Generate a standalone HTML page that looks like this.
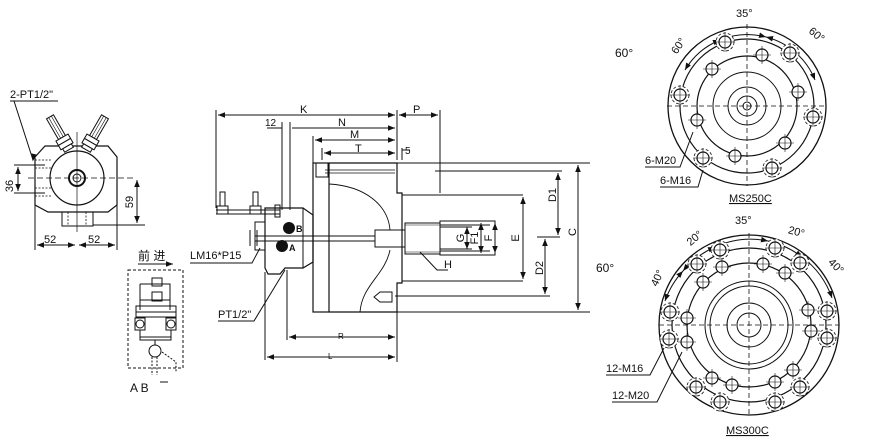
<!DOCTYPE html>
<html><head><meta charset="utf-8"><style>
html,body{margin:0;padding:0;background:#fff;}
svg{display:block;}
text{font-family:"Liberation Sans","Noto Sans CJK SC",sans-serif;fill:#111;}
</style></head><body>
<svg width="870" height="448" viewBox="0 0 870 448" xmlns="http://www.w3.org/2000/svg">
<defs>
<marker id="ar" viewBox="0 0 10 10" refX="10" refY="5" markerWidth="7" markerHeight="7" orient="auto-start-reverse"><path d="M0,1 L10,5 L0,9 z" fill="#111"/></marker>
<g id="h20"><circle r="6" fill="#fff" stroke="#111" stroke-width="1.2"/><path d="M-9,0H9M0,-9V9" stroke="#111" stroke-width="0.6"/></g>
<g id="h16"><circle r="9" fill="#fff" stroke="#111" stroke-width="0.8" stroke-dasharray="3 2"/><circle r="6" fill="none" stroke="#111" stroke-width="1.2"/><path d="M-10,0H10M0,-10V10" stroke="#111" stroke-width="0.6"/></g>
<g id="tube"><rect x="-4" y="-36" width="8" height="24"/><path d="M-1.5,-36V-12M1.5,-36V-12" stroke-width="0.6"/><rect x="-7" y="-12" width="14" height="5"/><rect x="-7" y="-7" width="14" height="5"/><rect x="-5" y="-2" width="10" height="4"/></g>
</defs>
<g fill="none" stroke="#111" stroke-width="1">

<!-- LEFT END VIEW -->
<path d="M35,157 L45,146 L108,146 L117,157 L117,205 L108,212 L48,212 L35,205 Z" stroke-width="1.2"/>
<rect x="62" y="212" width="31" height="14"/>
<circle cx="77" cy="178" r="27" stroke-width="1.2"/>
<circle cx="77" cy="178" r="8" stroke-width="2"/><circle cx="77" cy="178" r="4"/>
<g transform="translate(68,148) rotate(-30)" fill="#fff"><use href="#tube"/></g>
<g transform="translate(87,148) rotate(30)" fill="#fff"><use href="#tube"/></g>
<path d="M77,132 V232" stroke-width="0.7"/>
<path d="M28,178 H135" stroke-dasharray="6 3" stroke-width="0.8"/>
<path d="M35,160 H52 M35,168 H52 M35,188 H52 M35,196 H52" stroke-dasharray="2 1.5" stroke-width="0.8"/>
<path d="M68,212 V226 M86,212 V226" stroke-dasharray="2 1.5" stroke-width="0.8"/>
<path d="M35,205 V250 M117,205 V250 M93,225 H145 M14,165 H45 M14,193 H45"/>
<path d="M37,245 H75" marker-start="url(#ar)" marker-end="url(#ar)"/>
<path d="M79,245 H115" marker-start="url(#ar)" marker-end="url(#ar)"/>
<path d="M18,167 V191" marker-start="url(#ar)" marker-end="url(#ar)"/>
<path d="M137,180 V223" marker-start="url(#ar)" marker-end="url(#ar)"/>
<path d="M10,101 H58 M14,101 L33,160" /><path d="M33,160 l-1,-6 l4,1z" fill="#111"/>

<!-- hydraulic schematic -->
<rect x="128" y="270" width="55" height="98" stroke-dasharray="3 2"/>
<path d="M138,264 H173" marker-end="url(#ar)"/>
<path d="M140,284 H170 V310 M140,284 V310 M140,300 H170"/>
<rect x="152" y="278" width="10" height="8"/><rect x="152" y="292" width="10" height="9"/>
<rect x="136" y="306" width="40" height="6"/><rect x="136" y="312" width="40" height="5"/>
<rect x="135" y="318" width="10" height="12"/><circle cx="140" cy="324" r="4"/>
<rect x="166" y="318" width="10" height="12"/><circle cx="171" cy="324" r="4"/>
<path d="M140,330 V340 H171 V330 M140,337 H171" />
<path d="M144,337 H168" stroke-dasharray="2 2"/>
<path d="M155,340 V345"/><circle cx="155" cy="351" r="6"/>
<path d="M152,357 V375 M157,357 V375 M162,352 L176,362 V372" stroke-dasharray="2 1.5"/>
<path d="M160,382 H168"/>

<!-- MAIN SIDE VIEW -->
<path d="M216,110 V208 M397,110 V160 M440,110 V193 M282,122 V210 M290,122 V210"/>
<path d="M218,115 H395" marker-start="url(#ar)" marker-end="url(#ar)"/>
<path d="M399,115 H438" marker-start="url(#ar)" marker-end="url(#ar)"/>
<path d="M267,128 H282 M292,128 H395" marker-end="url(#ar)"/>
<path d="M313,136 V163"/>
<path d="M315,140 H395" marker-start="url(#ar)" marker-end="url(#ar)"/>
<path d="M324,153 H395" marker-start="url(#ar)" marker-end="url(#ar)"/>
<path d="M322,148 V160 M402,148 V160 M402,150 H410"/>
<!-- housing -->
<rect x="313" y="163" width="16" height="149" stroke-width="1.2"/>
<path d="M329,163 H397 V193 H402 V283 H397 V312 H329" stroke-width="1.2"/>
<rect x="316" y="163" width="12" height="14"/>
<path d="M325,170 H395 M325,173 H395" stroke-width="0.7"/>
<path d="M329,184 C365,186 388,205 390,230 M390,250 C385,275 362,285 360,312" stroke-width="0.9"/>
<path d="M402,195 H523 M402,281 H523 M397,163 H590 M397,312 H590 M435,171 H562 M537,237 H560 M395,296 H550"/>
<!-- rod and piston -->
<rect x="375" y="230" width="30" height="17"/>
<rect x="405" y="223" width="35" height="31"/>
<path d="M405,225 H440 M405,252 H440" stroke-width="0.5"/>
<rect x="440" y="221" width="55" height="34"/>
<path d="M440,225 H490 M440,251 H490"/>
<path d="M255,236 H375 M255,241 H375"/>
<!-- bolt -->
<path d="M374,297 L380,292 H392 V302 H380 Z"/>
<!-- cylinder -->
<path d="M265,208 H303 L313,215 V262 L303,268 H285 L280,274 H268 L265,268 Z" stroke-width="1.2"/>
<path d="M303,208 V268"/>
<rect x="255" y="222" width="10" height="28"/>
<path d="M250,230 V246 M257,230 V246"/>
<path d="M216,210 H280 M216,214 H280"/>
<rect x="220" y="192" width="5" height="14"/><rect x="253" y="192" width="5" height="14"/>
<rect x="217" y="206" width="11" height="8"/><rect x="250" y="206" width="11" height="8"/>
<rect x="275" y="205" width="5" height="12"/>
<path d="M265,272 V360 M287,270 V340"/>
<path d="M289,337 H395" marker-start="url(#ar)" marker-end="url(#ar)"/>
<path d="M267,357 H395" marker-start="url(#ar)" marker-end="url(#ar)"/>
<path d="M397,312 V362"/>
<!-- dims right -->
<path d="M523,197 V279" marker-start="url(#ar)" marker-end="url(#ar)"/>
<path d="M578,165 V310" marker-start="url(#ar)" marker-end="url(#ar)"/>
<path d="M558,173 V235" marker-start="url(#ar)" marker-end="url(#ar)"/>
<path d="M545,239 V294" marker-start="url(#ar)" marker-end="url(#ar)"/>
<path d="M495,223 V253" marker-start="url(#ar)" marker-end="url(#ar)"/>
<path d="M481,223 V253" marker-start="url(#ar)" marker-end="url(#ar)"/>
<path d="M467,227 V249" marker-start="url(#ar)" marker-end="url(#ar)"/>
<path d="M440,227 H472 M440,249 H472"/>
<path d="M420,252 L437,270 H448"/>
<path d="M190,263 H252 L260,248"/>
<path d="M218,321 H254 L285,270"/>

<!-- MS250C -->
<g transform="translate(747,106)">
<circle r="79" stroke-width="1.3"/><circle r="67" stroke-width="1.2"/><circle r="50" stroke-width="1.2"/><circle r="34"/><circle r="19"/><circle r="10"/><circle r="4"/>
<path d="M-80,0H80M0,-82V80" stroke-dasharray="5 3" stroke-width="0.8"/>
<path d="M-62,-36 A72,72 0 0 1 -27,-66" marker-start="url(#ar)" marker-end="url(#ar)"/>
<path d="M-27,-66 A72,72 0 0 1 19,-69" marker-start="url(#ar)" marker-end="url(#ar)"/>
<path d="M19,-69 A72,72 0 0 1 68,-26" marker-start="url(#ar)" marker-end="url(#ar)"/>
<use href="#h20" x="15" y="-51"/><use href="#h20" x="-35" y="-37"/><use href="#h20" x="51" y="-14"/>
<use href="#h20" x="-50" y="14"/><use href="#h20" x="38" y="37"/><use href="#h20" x="-12" y="50"/>
<use href="#h16" x="-22" y="-64"/><use href="#h16" x="43" y="-53"/><use href="#h16" x="-67" y="-11"/>
<use href="#h16" x="66" y="11"/><use href="#h16" x="-44" y="52"/><use href="#h16" x="25" y="62"/>
</g>
<path d="M645,167 H680 L693,132"/><path d="M660,187 H698 L703,170"/>

<!-- MS300C -->
<g transform="translate(749,325)">
<circle r="90" stroke-width="1.3"/><circle r="77" stroke-width="1.2"/><circle r="62" stroke-width="1.2"/><circle r="44"/><circle r="39"/><circle r="22"/><circle r="12"/>
<path d="M-90,0H90M0,-92V90" stroke-dasharray="5 3" stroke-width="0.8"/>
<path d="M-84,-24 A86,86 0 0 1 -66,-54" marker-start="url(#ar)" marker-end="url(#ar)"/>
<path d="M-66,-54 A86,86 0 0 1 -34,-78" marker-start="url(#ar)" marker-end="url(#ar)"/>
<path d="M-34,-78 A86,86 0 0 1 19,-84" marker-start="url(#ar)" marker-end="url(#ar)"/>
<path d="M19,-84 A86,86 0 0 1 53,-68" marker-start="url(#ar)" marker-end="url(#ar)"/>
<path d="M53,-68 A86,86 0 0 1 83,-27" marker-start="url(#ar)" marker-end="url(#ar)"/>
<use href="#h20" x="-27" y="-58"/><use href="#h20" x="14" y="-61"/><use href="#h20" x="-46" y="-43"/>
<use href="#h20" x="36" y="-52"/><use href="#h20" x="-62" y="-7"/><use href="#h20" x="59" y="-15"/>
<use href="#h20" x="-62" y="17"/><use href="#h20" x="62" y="6"/><use href="#h20" x="-37" y="53"/>
<use href="#h20" x="-17" y="60"/><use href="#h20" x="26" y="57"/><use href="#h20" x="44" y="45"/>
<use href="#h16" x="-29" y="-75"/><use href="#h16" x="26" y="-77"/><use href="#h16" x="-52" y="-61"/>
<use href="#h16" x="51" y="-62"/><use href="#h16" x="-79" y="-13"/><use href="#h16" x="78" y="-14"/>
<use href="#h16" x="-80" y="14"/><use href="#h16" x="78" y="13"/><use href="#h16" x="-53" y="62"/>
<use href="#h16" x="-29" y="77"/><use href="#h16" x="26" y="77"/><use href="#h16" x="51" y="62"/>
</g>
<path d="M606,375 H650 L664,348"/><path d="M612,402 H657 L682,352"/>
</g>

<g fill="#111">
<circle cx="289" cy="228" r="6"/><circle cx="282" cy="246" r="6"/>
</g>

<g font-size="11">
<text x="10" y="98">2-PT1/2"</text>
<text x="44" y="243">52</text><text x="88" y="243">52</text>
<text x="13" y="186" transform="rotate(-90 13 186)" text-anchor="middle" x="13">36</text>
<text x="133" y="202" transform="rotate(-90 133 202)" text-anchor="middle">59</text>
<text x="138" y="260" font-size="12">前 进</text>
<text x="130" y="392" font-size="12">A B</text>
<text x="300" y="113">K</text><text x="413" y="113">P</text>
<text x="265" y="126" font-size="10">12</text><text x="338" y="126">N</text>
<text x="350" y="138">M</text><text x="355" y="152">T</text><text x="405" y="154" font-size="10">5</text>
<text x="296" y="232" font-size="9" font-weight="bold">B</text><text x="289" y="251" font-size="9" font-weight="bold">A</text>
<text x="190" y="259">LM16*P15</text>
<text x="218" y="318">PT1/2"</text>
<text x="338" y="339" font-size="8">R</text><text x="328" y="359" font-size="8">L</text>
<text x="444" y="268">H</text>
<text x="519" y="238" transform="rotate(-90 519 238)" text-anchor="middle">E</text>
<text x="576" y="232" transform="rotate(-90 576 232)" text-anchor="middle">C</text>
<text x="556" y="195" transform="rotate(-90 556 195)" text-anchor="middle">D1</text>
<text x="543" y="268" transform="rotate(-90 543 268)" text-anchor="middle">D2</text>
<text x="492" y="238" transform="rotate(-90 492 238)" text-anchor="middle">F</text>
<text x="478" y="238" transform="rotate(-90 478 238)" text-anchor="middle">F1</text>
<text x="464" y="238" transform="rotate(-90 464 238)" text-anchor="middle">G</text>
<text x="596" y="272" font-size="12">60°</text>
<text x="615" y="57" font-size="12">60°</text>
<text x="736" y="17">35°</text>
<text x="670" y="52" transform="rotate(-55 676 47)">60°</text>
<text x="808" y="38" transform="rotate(40 816 35)">60°</text>
<text x="645" y="164">6-M20</text><text x="660" y="184">6-M16</text>
<text x="729" y="202" text-decoration="underline">MS250C</text>
<text x="735" y="224">35°</text>
<text x="686" y="242" transform="rotate(-40 694 238)">20°</text>
<text x="788" y="235" transform="rotate(15 795 232)">20°</text>
<text x="650" y="284" transform="rotate(-65 656 280)">40°</text>
<text x="828" y="268" transform="rotate(45 834 265)">40°</text>
<text x="606" y="372">12-M16</text><text x="612" y="399">12-M20</text>
<text x="726" y="434" text-decoration="underline">MS300C</text>
</g>
</svg>
</body></html>
